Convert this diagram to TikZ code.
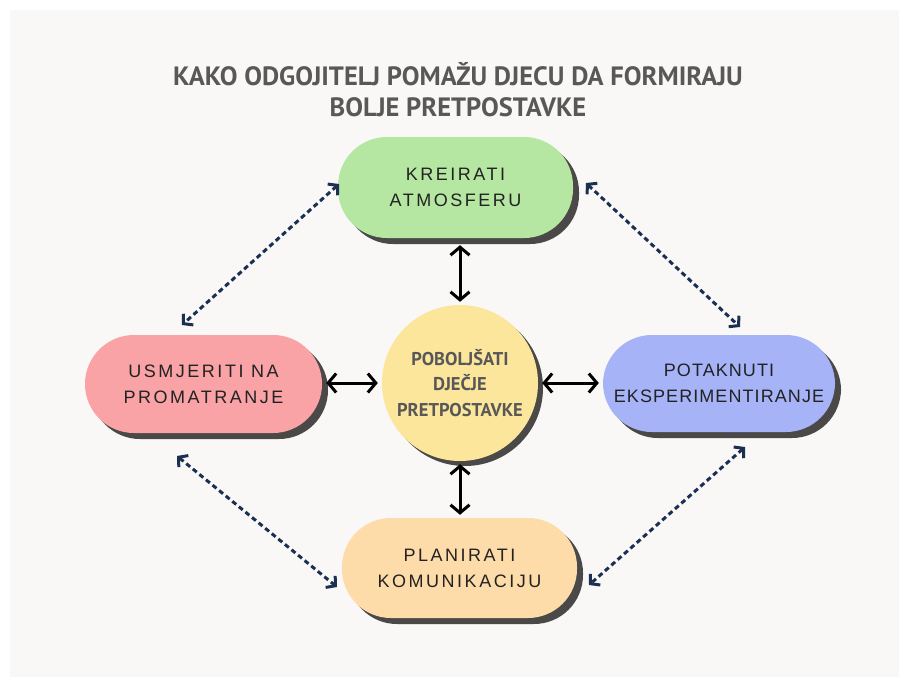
\documentclass[tikz,border=0pt]{standalone}
\usepackage{fontspec}
\setmainfont{Liberation Sans}
\newfontfamily\titlefont{PT Sans}
\newfontfamily\boxfont[LetterSpace=14]{Liberation Sans}
\newfontfamily\boxfontnarrow[LetterSpace=6]{Liberation Sans}
\usetikzlibrary{shadows,arrows.meta}
\definecolor{panelbg}{HTML}{F9F8F6}
\definecolor{titlegray}{HTML}{585858}
\definecolor{shadowgray}{HTML}{4B4848}
\definecolor{cgreen}{HTML}{B5E6A2}
\definecolor{cred}{HTML}{F9A3A6}
\definecolor{cblue}{HTML}{A6B4F7}
\definecolor{corange}{HTML}{FDDCAA}
\definecolor{cyellow}{HTML}{FCE69C}
\definecolor{navy}{HTML}{1B2F52}
\definecolor{boxtext}{HTML}{222222}
\begin{document}
\begin{tikzpicture}[x=1pt,y=-1pt,
  pill/.style={rectangle, rounded corners=49pt, minimum width=235pt, minimum height=100pt,
    align=center, text=boxtext, font=\boxfont\fontsize{18}{26}\selectfont,
    drop shadow={shadow xshift=6pt, shadow yshift=-6pt, opacity=1, fill=shadowgray}},
  hub/.style={circle, minimum size=156pt, inner sep=0pt, fill=cyellow, align=center,
    text=titlegray, font=\titlefont\bfseries\fontsize{18.5}{25.5}\selectfont,
    drop shadow={shadow xshift=5pt, shadow yshift=-5pt, opacity=1, fill=shadowgray}},
  solidlink/.style={line width=3pt, black, {Straight Barb[length=8pt,width=19pt]}-{Straight Barb[length=8pt,width=19pt]}},
  dashlink/.style={line width=3pt, navy, dash pattern=on 5pt off 3.5pt,
    {Straight Barb[length=6.5pt,width=15pt]}-{Straight Barb[length=6.5pt,width=15pt]}}
]
\useasboundingbox (0,0) rectangle (899,677);
\fill[white] (0,0) rectangle (899,677);
\fill[panelbg] (10,10) rectangle (899,677);

\node[text=titlegray, font=\titlefont\bfseries\fontsize{26.5}{31}\selectfont, align=center] (title) at (458,90)
  {KAKO ODGOJITELJ POMAŽU DJECU DA FORMIRAJU\\BOLJE PRETPOSTAVKE};

\node[pill, fill=cgreen, minimum height=101pt] (top) at (455.5,187.5) {KREIRATI\\ATMOSFERU};
\node[pill, fill=cred, minimum width=237pt, minimum height=98pt] (left) at (203.5,384) {USMJERITI NA\\PROMATRANJE};
\node[pill, fill=cblue, minimum width=232pt, minimum height=97pt, font=\boxfontnarrow\fontsize{18}{26}\selectfont] (right) at (719,383.5) {POTAKNUTI\\EKSPERIMENTIRANJE};
\node[pill, fill=corange] (bottom) at (459.5,568) {PLANIRATI\\KOMUNIKACIJU};
\node[hub] (hubnode) at (460,383) {POBOLJŠATI\\DJEČJE\\PRETPOSTAVKE};

\draw[solidlink, shorten <=7pt, shorten >=3pt] (top.south -| hubnode.north) -- (hubnode.north);
\draw[solidlink, shorten <=4pt, shorten >=4pt] (left.east |- hubnode.center) -- (hubnode.west);
\draw[solidlink, shorten <=4pt, shorten >=4pt] (hubnode.east) -- (right.west |- hubnode.center);
\draw[solidlink, shorten <=3pt, shorten >=3pt] (hubnode.south) -- (bottom.north -| hubnode.south);

\coordinate (tl1) at (339,184);
\coordinate (tl2) at (182,325);
\coordinate (tr1) at (586,183);
\coordinate (tr2) at (740,327);
\coordinate (bl1) at (177,456);
\coordinate (bl2) at (337,587);
\coordinate (br1) at (745,447);
\coordinate (br2) at (589,585);
\draw[dashlink] (tl1) -- (tl2);
\draw[dashlink] (tr1) -- (tr2);
\draw[dashlink] (bl1) -- (bl2);
\draw[dashlink] (br1) -- (br2);
\end{tikzpicture}
\end{document}
